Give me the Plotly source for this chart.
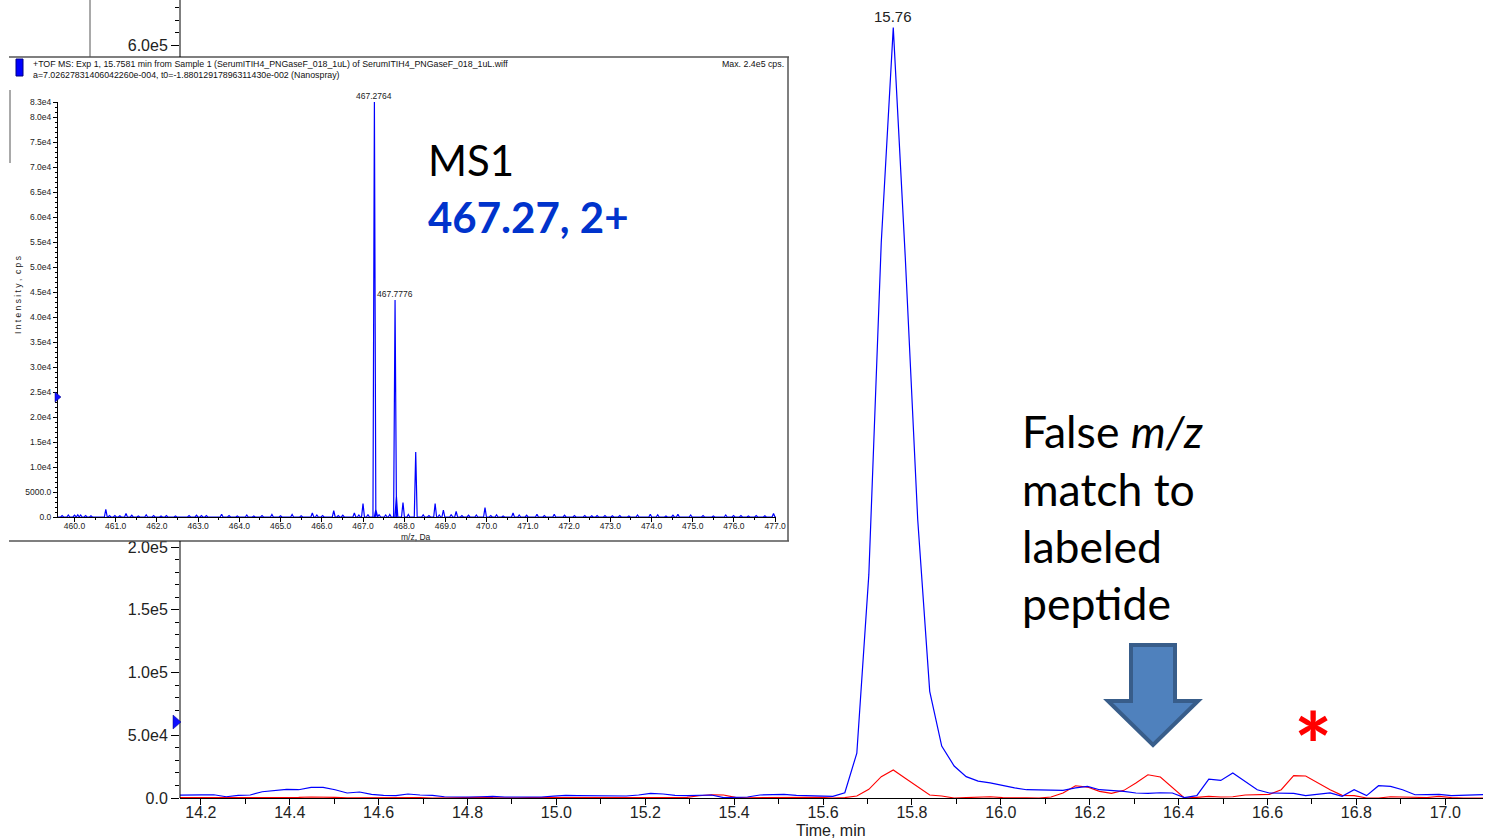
import plotly.graph_objects as go

FIG_W, FIG_H = 1487, 840

# ---------------- extracted-ion chromatogram (retention time, min) ----------------
time_min = [
    14.120, 14.147, 14.175, 14.202, 14.229, 14.257, 14.284, 14.311, 14.338, 14.366,
    14.393, 14.420, 14.448, 14.475, 14.502, 14.529, 14.557, 14.584, 14.611, 14.639,
    14.666, 14.693, 14.721, 14.748, 14.775, 14.803, 14.830, 14.857, 14.884, 14.912,
    14.939, 14.966, 14.994, 15.021, 15.048, 15.076, 15.103, 15.130, 15.157, 15.185,
    15.212, 15.240, 15.267, 15.294, 15.321, 15.349, 15.376, 15.403, 15.430, 15.458,
    15.485, 15.512, 15.540, 15.567, 15.594, 15.622, 15.649, 15.676, 15.703, 15.731,
    15.758,
    15.785, 15.813, 15.840, 15.867, 15.895, 15.922, 15.949, 15.976, 16.004, 16.031,
    16.058, 16.086, 16.113, 16.140, 16.168, 16.195, 16.222, 16.249, 16.277, 16.304,
    16.331, 16.359, 16.386, 16.413, 16.441, 16.468, 16.495, 16.522, 16.550, 16.577,
    16.604, 16.631, 16.659, 16.686, 16.713, 16.741, 16.768, 16.795, 16.823, 16.850,
    16.877, 16.904, 16.932, 16.959, 16.986, 17.014, 17.041, 17.068, 17.096,
]

# XIC of the unlabeled 467.27 (2+) ion, cps
xic_unlabeled = [
    2100, 2400, 2400, 2500, 2600, 1000, 2100, 2400, 5000, 6100,
    6900, 6600, 8500, 8500, 6600, 4000, 4800, 2900, 2100, 1900,
    3200, 2400, 2100, 1000, 800, 800, 1000, 1300, 800, 800,
    1000, 800, 1500, 2100, 1900, 1900, 1600, 1600, 1600, 2400,
    3700, 3200, 2100, 1900, 2100, 2400, 300, 500, 800, 2400,
    2400, 2900, 2100, 1900, 1900, 1300, 4200, 35800, 178000, 443000,
    614000,
    431000, 222000, 85000, 41400, 25500, 17000, 13500, 12000, 9800, 8000,
    6600, 6600, 6100, 6100, 8000, 9300, 6600, 6100, 5300, 4000,
    3700, 4200, 4000, 300, 1900, 15100, 14000, 19900, 13200, 6600,
    4000, 4000, 3700, 1900, 2900, 4000, 1300, 6600, 1900, 9800,
    9300, 6600, 2600, 2600, 2900, 1900, 2400, 2900, 2900,
]

# XIC of the heavy-labeled counterpart, cps
xic_labeled = [
    300, 300, 200, 300, 200, 0, 300, 300, 200, 300,
    300, 500, 800, 900, 500, 200, 300, 200, 0, 300,
    500, 300, 0, 200, 500, 800, 600, 300, 0, 200,
    300, 300, 200, 0, 300, 200, 300, 0, 200, 300,
    0, 300, 200, 500, 1800, 2600, 2400, 500, 200, 300,
    0, 300, 200, 500, 500, 0, 300, 1600, 6900, 17000,
    22300,
    15700, 9000, 2400, 1600, 0, 300, 600, 1000, 300, 500,
    200, 0, 800, 4000, 9800, 8700, 5300, 3700, 6100, 11900,
    18500, 16700, 8000, 0, 500, 1300, 800, 1000, 2400, 2600,
    2900, 6600, 17800, 17500, 11900, 6600, 2100, 1900, 0, 0,
    1000, 800, 300, 300, 1300, 300, 0, 0, 0,
]

apex_time = 15.758

# ---------------- MS1 spectrum at the apex ----------------
labeled_mz = [467.2764, 467.7776]
labeled_counts = [83000, 43400]

mz_values = [
    459.70, 459.85, 460.00, 460.08, 460.15, 460.27, 460.40, 460.76, 460.85, 460.98,
    461.10, 461.25, 461.39, 461.55, 461.74, 461.92, 462.10, 462.23, 462.45, 462.78,
    462.96, 463.08, 463.20, 463.57, 463.75, 463.95, 464.18, 464.35, 464.55, 464.79,
    465.00, 465.28, 465.50, 465.77, 465.88, 466.02, 466.29, 466.40, 466.51, 466.79,
    466.90, 467.00, 467.12, 467.31, 467.39, 467.55, 467.65, 467.81, 467.97, 468.10,
    468.279, 468.46, 468.60, 468.75, 468.85, 468.95, 469.14, 469.26, 469.40, 469.56,
    469.75, 469.96, 470.10, 470.24, 470.40, 470.64, 470.79, 470.97, 471.22, 471.40,
    471.64, 471.89, 472.13, 472.38, 472.55, 472.68, 472.87, 473.05, 473.23, 473.45,
    473.66, 473.97, 474.15, 474.35, 474.52, 474.64, 474.95, 475.25, 475.50, 475.80,
    475.99, 476.17, 476.35, 476.54, 476.75, 476.96,
]
mz_counts = [
    300, 400, 350, 450, 400, 300, 250, 1550, 300, 300,
    250, 700, 350, 200, 450, 300, 200, 300, 200, 300,
    350, 300, 300, 550, 300, 200, 400, 200, 300, 500,
    250, 500, 250, 800, 400, 300, 1250, 300, 350, 800,
    400, 2700, 500, 1500, 500, 400, 500, 4200, 2900, 500,
    13000, 450, 300, 2700, 400, 1400, 500, 1100, 300, 350,
    400, 1900, 300, 450, 200, 800, 400, 350, 550, 300,
    550, 350, 300, 300, 250, 300, 300, 250, 300, 200,
    400, 550, 450, 200, 350, 550, 400, 300, 200, 400,
    300, 300, 200, 300, 250, 700,
]

inset_y_ticks = [83000, 80000, 75000, 70000, 65000, 60000, 55000, 50000, 45000,
                 40000, 35000, 30000, 25000, 20000, 15000, 10000, 5000, 0]
inset_y_text = ["8.3e4", "8.0e4", "7.5e4", "7.0e4", "6.5e4", "6.0e4", "5.5e4", "5.0e4", "4.5e4",
                "4.0e4", "3.5e4", "3.0e4", "2.5e4", "2.0e4", "1.5e4", "1.0e4", "5000.0", "0.0"]

main_y_ticks = [0, 50000, 100000, 150000, 200000, 600000]
main_y_text = ["0.0", "5.0e4", "1.0e5", "1.5e5", "2.0e5", "6.0e5"]
main_y_minor = [v for v in range(10000, 210000, 10000) if v % 50000] + [610000, 620000, 630000]


def px(x):
    return x / FIG_W


def py(y):
    return 1 - y / FIG_H


# profile-style spectrum built from the centroid list
pairs = sorted(zip(mz_values + labeled_mz, mz_counts + labeled_counts))
spec_x, spec_y = [459.6], [0]
half_w = 0.035
for m, c in pairs:
    spec_x += [m - half_w, m, m + half_w]
    spec_y += [0, c, 0]
spec_x.append(477.02)
spec_y.append(0)

SW_FONT = "Liberation Sans, Arial, sans-serif"
SLIDE_FONT = "Lato, Calibri, sans-serif"

fig = go.Figure()

fig.add_trace(go.Scatter(x=time_min, y=xic_labeled, mode="lines",
                         line=dict(color="#ff0000", width=1.1), xaxis="x", yaxis="y",
                         hoverinfo="skip"))
fig.add_trace(go.Scatter(x=time_min, y=xic_unlabeled, mode="lines",
                         line=dict(color="#0000ff", width=1.2), xaxis="x", yaxis="y",
                         hoverinfo="skip"))
fig.add_trace(go.Scatter(x=spec_x, y=spec_y, mode="lines",
                         line=dict(color="#0000ff", width=1.2), xaxis="x2", yaxis="y2",
                         hoverinfo="skip"))

shapes = []
# inset panel background and frame
shapes.append(dict(type="rect", xref="paper", yref="paper", layer="below",
                   x0=px(8), x1=px(788), y0=py(541), y1=py(57),
                   fillcolor="white", line=dict(width=0)))
frame = dict(color="#555555", width=1.5)
shapes.append(dict(type="line", xref="paper", yref="paper", x0=px(9), x1=px(789),
                   y0=py(57), y1=py(57), line=frame))
shapes.append(dict(type="line", xref="paper", yref="paper", x0=px(788), x1=px(788),
                   y0=py(57), y1=py(541), line=frame))
shapes.append(dict(type="line", xref="paper", yref="paper", x0=px(9), x1=px(789),
                   y0=py(541), y1=py(541), line=frame))
shapes.append(dict(type="line", xref="paper", yref="paper", x0=px(10), x1=px(10),
                   y0=py(90), y1=py(163), line=dict(color="#555555", width=1)))
shapes.append(dict(type="line", xref="paper", yref="paper", x0=px(90), x1=px(90),
                   y0=py(0), y1=py(57), line=dict(color="#555555", width=1)))
# main intensity axis line (hidden behind the inset)
shapes.append(dict(type="line", xref="paper", yref="paper", x0=px(180), x1=px(180),
                   y0=py(798), y1=py(541), line=dict(color="black", width=1)))
shapes.append(dict(type="line", xref="paper", yref="paper", x0=px(180), x1=px(180),
                   y0=py(57), y1=py(0), line=dict(color="black", width=1)))
# sample marker in the inset header
shapes.append(dict(type="rect", xref="paper", yref="paper", x0=px(16), x1=px(23),
                   y0=py(76), y1=py(59), fillcolor="#0000ff", line=dict(color="#000080", width=1)))
# threshold markers
shapes.append(dict(type="path", xref="paper", yref="paper",
                   path=f"M {px(173)},{py(715)} L {px(181)},{py(722)} L {px(173)},{py(729)} Z",
                   fillcolor="#1010ff", line=dict(color="#000080", width=0.5)))
shapes.append(dict(type="path", xref="paper", yref="paper",
                   path=f"M {px(55)},{py(392)} L {px(61)},{py(397)} L {px(55)},{py(402)} Z",
                   fillcolor="#1010ff", line=dict(color="#000080", width=0.5)))
# block arrow
arrow_pts = [(1131, 645), (1175, 645), (1175, 701), (1198, 701), (1153, 745),
             (1108, 701), (1131, 701)]
arrow_path = "M " + " L ".join(f"{px(a)},{py(b)}" for a, b in arrow_pts) + " Z"
shapes.append(dict(type="path", xref="paper", yref="paper", path=arrow_path,
                   fillcolor="#4f81bd", line=dict(color="#385d8a", width=4)))

annotations = []
# apex retention time
annotations.append(dict(x=apex_time, y=max(xic_unlabeled), xref="x", yref="y",
                        text=f"{apex_time:.2f}", showarrow=False, yanchor="bottom", yshift=1,
                        font=dict(family=SW_FONT, size=15, color="#222222")))
# labeled spectrum peaks
for m, c in zip(labeled_mz, labeled_counts):
    annotations.append(dict(x=m, y=c, xref="x2", yref="y2", text=f"{m:.4f}",
                            showarrow=False, yanchor="bottom", yshift=-1,
                            font=dict(family=SW_FONT, size=8.5, color="#222222")))
# inset header
annotations.append(dict(x=px(31), y=py(64), xref="paper", yref="paper", xanchor="left",
                        yanchor="middle", showarrow=False,
                        text="+TOF MS: Exp 1, 15.7581 min from Sample 1 (SerumITIH4_PNGaseF_018_1uL) of SerumITIH4_PNGaseF_018_1uL.wiff",
                        font=dict(family=SW_FONT, size=8.8, color="#111111")))
annotations.append(dict(x=px(31), y=py(75), xref="paper", yref="paper", xanchor="left",
                        yanchor="middle", showarrow=False,
                        text="a=7.02627831406042260e-004, t0=-1.88012917896311430e-002 (Nanospray)",
                        font=dict(family=SW_FONT, size=8.8, color="#111111")))
annotations.append(dict(x=px(786), y=py(64), xref="paper", yref="paper", xanchor="right",
                        yanchor="middle", showarrow=False, text="Max. 2.4e5 cps.",
                        font=dict(family=SW_FONT, size=8.8, color="#111111")))
annotations.append(dict(x=px(18), y=py(295), xref="paper", yref="paper", xanchor="center",
                        yanchor="middle", showarrow=False, textangle=-90,
                        text="I n t e n s i t y ,  c p s",
                        font=dict(family=SW_FONT, size=8.5, color="#222222")))
annotations.append(dict(x=px(416), y=py(536.5), xref="paper", yref="paper", xanchor="center",
                        yanchor="middle", showarrow=False, text="m/z, Da",
                        font=dict(family=SW_FONT, size=8.5, color="#222222")))
annotations.append(dict(x=px(831), y=py(830), xref="paper", yref="paper", xanchor="center",
                        yanchor="middle", showarrow=False, text="Time, min",
                        font=dict(family=SW_FONT, size=16, color="#222222")))
# slide call-outs
annotations.append(dict(x=px(426), y=py(160), xref="paper", yref="paper", xanchor="left",
                        yanchor="middle", showarrow=False, text="MS1",
                        font=dict(family=SLIDE_FONT, size=42, color="#000000")))
annotations.append(dict(x=px(426), y=py(217), xref="paper", yref="paper", xanchor="left",
                        yanchor="middle", showarrow=False, text="<b>467.27, 2+</b>",
                        font=dict(family=SLIDE_FONT, size=42, color="#0033cc")))
for txt, yy in [("False <i>m/z</i>", 431), ("match to", 488), ("labeled", 545), ("peptide", 602)]:
    annotations.append(dict(x=px(1020), y=py(yy), xref="paper", yref="paper", xanchor="left",
                            yanchor="middle", showarrow=False, text=txt,
                            font=dict(family=SLIDE_FONT, size=44.5, color="#000000")))
annotations.append(dict(x=px(1313), y=py(744), xref="paper", yref="paper", xanchor="center",
                        yanchor="middle", showarrow=False, text="<b>*</b>",
                        font=dict(family=SLIDE_FONT, size=90, color="#ff0000")))

fig.update_layout(
    width=FIG_W, height=FIG_H, autosize=False,
    margin=dict(l=0, r=0, t=0, b=0, pad=0),
    paper_bgcolor="white", plot_bgcolor="rgba(0,0,0,0)",
    showlegend=False,
    shapes=shapes, annotations=annotations,
    xaxis=dict(domain=[px(180), px(1483)], range=[14.153, 17.085], anchor="y", automargin=False,
               showline=True, linecolor="black", linewidth=1, showgrid=False, zeroline=False,
               ticks="outside", ticklen=6, tickcolor="black", tick0=14.2, dtick=0.2,
               ticklabelstandoff=-6,
               tickformat=".1f", tickfont=dict(family=SW_FONT, size=16, color="#222222"),
               minor=dict(ticks="outside", ticklen=5, tickcolor="black", tick0=14.1, dtick=0.1)),
    yaxis=dict(domain=[py(798), 1], range=[0, 636000], anchor="x", automargin=False,
               showline=False, showgrid=False, zeroline=False,
               ticks="outside", ticklen=8, tickcolor="black",
               tickmode="array", tickvals=main_y_ticks, ticktext=main_y_text,
               tickfont=dict(family=SW_FONT, size=16, color="#222222"),
               minor=dict(ticks="outside", ticklen=4, tickcolor="black",
                          tickmode="array", tickvals=main_y_minor)),
    xaxis2=dict(domain=[px(58), px(776)], range=[459.6, 477.02], anchor="y2", automargin=False,
                showline=True, linecolor="black", linewidth=1, showgrid=False, zeroline=False,
                ticks="outside", ticklen=4, tickcolor="black", tick0=460, dtick=1,
                ticklabelstandoff=-3,
                tickformat=".1f", tickfont=dict(family=SW_FONT, size=8.5, color="#222222"),
                minor=dict(ticks="outside", ticklen=2, tickcolor="black", tick0=460, dtick=0.5)),
    yaxis2=dict(domain=[py(517), py(102)], range=[0, 83000], anchor="x2", automargin=False,
                showline=True, linecolor="black", linewidth=1, showgrid=False, zeroline=False,
                ticks="outside", ticklen=4, tickcolor="black",
                tickmode="array", tickvals=inset_y_ticks, ticktext=inset_y_text,
                tickfont=dict(family=SW_FONT, size=8.5, color="#222222"),
                minor=dict(ticks="outside", ticklen=2, tickcolor="black",
                           tickmode="linear", tick0=0, dtick=1000)),
)

fig.write_html("out.html")
